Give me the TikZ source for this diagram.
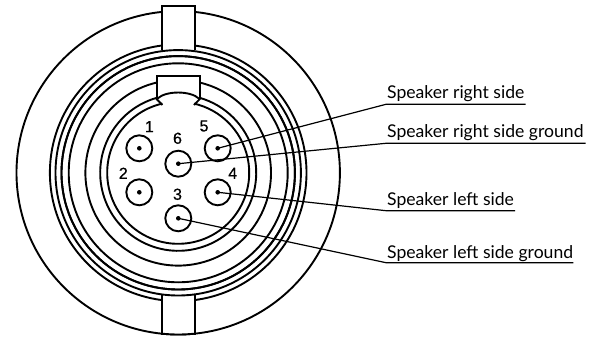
\documentclass[tikz,border=0pt]{standalone}
\usepackage{fontspec}
\setmainfont{Lato}
\newfontfamily\numfont{Liberation Sans}[BoldFont={Liberation Sans},BoldFeatures={FakeBold=0.5}]
\tikzset{
  ring/.style={draw=black,line width=1.9pt},
  pin/.style={circle,draw=black,line width=1.9pt,minimum size=26pt,inner sep=0pt},
  dot/.style={circle,fill=black,minimum size=4.6pt,inner sep=0pt},
  num/.style={font=\numfont\bfseries\fontsize{16}{16}\selectfont,inner sep=0pt,text=black},
  lab/.style={font=\fontsize{17.6}{17.6}\selectfont,anchor=base west,inner sep=0pt,text=black},
  lead/.style={draw=black,line width=1.2pt,line join=round}
}
\begin{document}
\begin{tikzpicture}[x=1pt,y=-1pt]
\useasboundingbox (0,0) rectangle (590,337);
\coordinate (c) at (178.2,172.8);
% outer body and rings
\foreach \r in {161.7,128.3,116.7,109.5}{\draw[ring] (c) circle[radius=\r pt];}
% keyways
\fill[white] (161.7,4) rectangle (195,52);
\fill[white] (161.7,294) rectangle (195,334);
\draw[ring] (c) circle[radius=122.7pt];
\draw[ring] (c) circle[radius=116.7pt];
\draw[ring] (c) ++(-96:161.7pt) arc[start angle=-96,end angle=-84,radius=161.7pt];
\draw[ring] (161.7,50.5) -- (161.7,5.7) -- (195,5.7) -- (195,50.5);
\draw[ring] (161.7,295) -- (161.7,335);
\draw[ring] (195,295) -- (195,335);
% inner rings with key notch
\draw[ring] (c) ++(103.5:92.8pt) arc[start angle=103.5,end angle=436.5,radius=92.8pt];
\draw[ring] (c) ++(106:78pt) arc[start angle=106,end angle=434,radius=78pt];
\draw[ring] (c) ++(103:71pt) arc[start angle=103,end angle=437,radius=71pt];
\draw[ring,line join=miter] (156.7,99) -- (156.7,75.7) -- (199.7,75.7) -- (199.7,99);
\draw[ring] (157.4,98.6) .. controls (166,90.5) and (190.4,90.5) .. (199,98.6);
\draw[ring] (156.2,98.6) -- (162.4,105);
\draw[ring] (200.2,98.6) -- (194,105);
% pins
\node[pin] (p1) at (139.3,148.3) {};
\node[pin] (p2) at (139.3,192.3) {};
\node[pin] (p3) at (178.3,218.3) {};
\node[pin] (p4) at (217.7,192.3) {};
\node[pin] (p5) at (217.7,148.3) {};
\node[pin] (p6) at (178.3,163.7) {};
\foreach \p in {p1,p2,p3,p4,p5,p6}{\node[dot] at (\p) {};}
% pin numbers
\node[num] (n1) at (149.3,126.7) {1};
\node[num] (n2) at (123.3,173.3) {2};
\node[num] (n3) at (177.5,194.3) {3};
\node[num] (n4) at (232.7,173.3) {4};
\node[num] (n5) at (204,126) {5};
\node[num] (n6) at (177.5,138.3) {6};
% labels
\node[lab] (l5) at (387,98.3) {Speaker right side};
\node[lab] (l6) at (387,137.7) {Speaker right side ground};
\node[lab] (l4) at (387,205) {Speaker left side};
\node[lab] (l3) at (387,258.3) {Speaker left side ground};
% leaders
\coordinate (b5) at (386,104.3); \coordinate (e5) at (525.7,104.3);
\coordinate (b6) at (386,143.3); \coordinate (e6) at (585.7,143.3);
\coordinate (b4) at (386,210.7); \coordinate (e4) at (515,210.7);
\coordinate (b3) at (386,262.7); \coordinate (e3) at (573.3,262.7);
\draw[lead] (p5.center) -- (b5) -- (e5);
\draw[lead] (p6.center) -- (b6) -- (e6);
\draw[lead] (p4.center) -- (b4) -- (e4);
\draw[lead] (p3.center) -- (b3) -- (e3);
\end{tikzpicture}
\end{document}
